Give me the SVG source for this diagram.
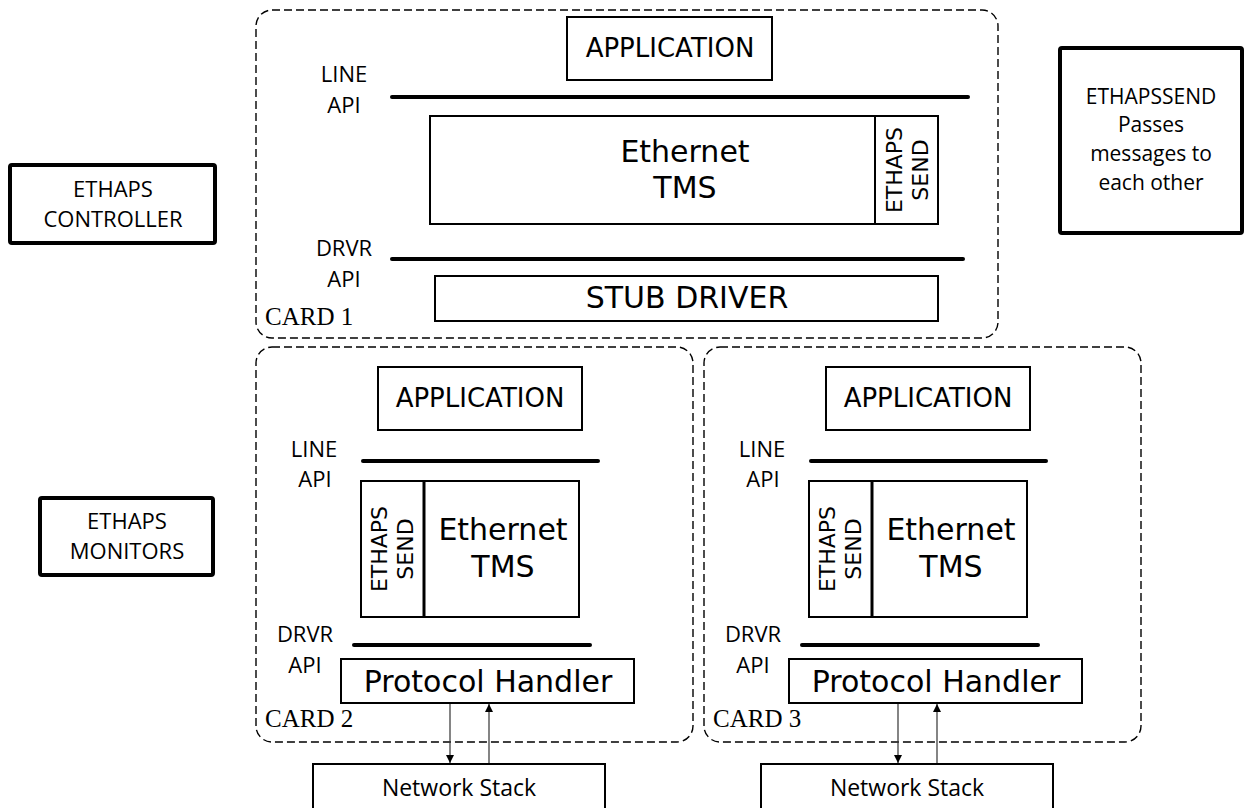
<svg xmlns="http://www.w3.org/2000/svg" width="1246" height="808" viewBox="0 0 1246 808">
<style>
.card{fill:none;stroke:#000;stroke-width:1.4;stroke-dasharray:8 4}
.box{fill:#fff;stroke:#000;stroke-width:2}
.tbox{fill:#fff;stroke:#000;stroke-width:4}
.api{stroke:#000;stroke-width:4;stroke-linecap:round}
.v{font-family:"DejaVu Sans",Verdana,sans-serif;fill:#000;text-anchor:middle}
.c{font-family:"Open Sans","Noto Sans",sans-serif;fill:#000;text-anchor:middle}
.t{font-family:"Liberation Serif","Times New Roman",serif;fill:#000;font-size:25px}
.conn{stroke:#333;stroke-width:1.2;fill:none}
</style>
<defs>
<marker id="ah" viewBox="0 0 10 10" markerWidth="10" markerHeight="8" refX="10" refY="5" orient="auto" markerUnits="userSpaceOnUse">
<path d="M0,0 L10,5 L0,10 z" fill="#000"/>
</marker>
</defs>

<g id="card1">
<rect class="card" x="256" y="10" width="742" height="328" rx="16"/>
<text class="t" x="265" y="325">CARD 1</text>
<text class="c" x="344" y="82" font-size="22">LINE</text>
<text class="c" x="344" y="113" font-size="22">API</text>
<line class="api" x1="392" y1="97" x2="968" y2="97"/>
<text class="c" x="344" y="256" font-size="22">DRVR</text>
<text class="c" x="344" y="287" font-size="22">API</text>
<line class="api" x1="392" y1="259" x2="963" y2="259"/>
</g>
<g id="app1">
<rect class="box" x="567" y="17" width="205" height="63"/>
<text class="v" x="670" y="57" font-size="26">APPLICATION</text>
</g>
<g id="tms1">
<rect class="box" x="430" y="116" width="445" height="108"/>
<text class="v" x="685" y="162" font-size="30">Ethernet</text>
<text class="v" x="685" y="198" font-size="30">TMS</text>
</g>
<g id="send1">
<rect class="box" x="875" y="116" width="63" height="108"/>
<text class="v" font-size="22" transform="translate(902,170) rotate(-90)" x="0" y="0">ETHAPS</text>
<text class="v" font-size="22" transform="translate(928,170) rotate(-90)" x="0" y="0">SEND</text>
</g>
<g id="stub1">
<rect class="box" x="435" y="276" width="503" height="45"/>
<text class="v" x="687" y="308" font-size="30">STUB DRIVER</text>
</g>

<g id="controller">
<rect class="tbox" x="10" y="165" width="205" height="78" rx="2"/>
<text class="c" x="113" y="197" font-size="22">ETHAPS</text>
<text class="c" x="113" y="227" font-size="22">CONTROLLER</text>
</g>
<g id="monitors">
<rect class="tbox" x="40" y="498" width="173" height="77" rx="2"/>
<text class="c" x="127" y="529" font-size="22">ETHAPS</text>
<text class="c" x="127" y="559" font-size="22">MONITORS</text>
</g>
<g id="ethapssend-note">
<rect class="tbox" x="1060" y="48" width="182" height="185" rx="2"/>
<text class="c" x="1151" y="104" font-size="21">ETHAPSSEND</text>
<text class="c" x="1151" y="132" font-size="21">Passes</text>
<text class="c" x="1151" y="161" font-size="21">messages to</text>
<text class="c" x="1151" y="190" font-size="21">each other</text>
</g>

<g id="card2">
<rect class="card" x="256" y="347" width="437" height="395" rx="16"/>
<text class="t" x="265" y="727">CARD 2</text>
<text class="c" x="314" y="457" font-size="22">LINE</text>
<text class="c" x="315" y="487" font-size="22">API</text>
<line class="api" x1="363" y1="461" x2="598" y2="461"/>
<text class="c" x="305" y="642" font-size="22">DRVR</text>
<text class="c" x="305" y="673" font-size="22">API</text>
<line class="api" x1="354" y1="645" x2="590" y2="645"/>
</g>
<g id="app2">
<rect class="box" x="378" y="367" width="204" height="63"/>
<text class="v" x="480" y="407" font-size="26">APPLICATION</text>
</g>
<g id="send2">
<rect class="box" x="361" y="481" width="63" height="136"/>
<text class="v" font-size="22" transform="translate(387,549) rotate(-90)" x="0" y="0">ETHAPS</text>
<text class="v" font-size="22" transform="translate(413,549) rotate(-90)" x="0" y="0">SEND</text>
</g>
<g id="tms2">
<rect class="box" x="424" y="481" width="155" height="136"/>
<line x1="424" y1="481" x2="424" y2="617" stroke="#000" stroke-width="3"/>
<text class="v" x="503" y="540" font-size="30">Ethernet</text>
<text class="v" x="503" y="577" font-size="30">TMS</text>
</g>
<g id="ph2">
<rect class="box" x="341" y="659" width="293" height="44"/>
<text class="v" x="488" y="692" font-size="30">Protocol Handler</text>
</g>
<g id="ns2">
<rect class="box" x="313" y="764" width="292" height="60"/>
<text class="c" x="459" y="796" font-size="23">Network Stack</text>
</g>

<g id="card3">
<rect class="card" x="704" y="347" width="437" height="395" rx="16"/>
<text class="t" x="713" y="727">CARD 3</text>
<text class="c" x="762" y="457" font-size="22">LINE</text>
<text class="c" x="763" y="487" font-size="22">API</text>
<line class="api" x1="811" y1="461" x2="1046" y2="461"/>
<text class="c" x="753" y="642" font-size="22">DRVR</text>
<text class="c" x="753" y="673" font-size="22">API</text>
<line class="api" x1="802" y1="645" x2="1038" y2="645"/>
</g>
<g id="app3">
<rect class="box" x="826" y="367" width="204" height="63"/>
<text class="v" x="928" y="407" font-size="26">APPLICATION</text>
</g>
<g id="send3">
<rect class="box" x="809" y="481" width="63" height="136"/>
<text class="v" font-size="22" transform="translate(835,549) rotate(-90)" x="0" y="0">ETHAPS</text>
<text class="v" font-size="22" transform="translate(861,549) rotate(-90)" x="0" y="0">SEND</text>
</g>
<g id="tms3">
<rect class="box" x="872" y="481" width="155" height="136"/>
<line x1="872" y1="481" x2="872" y2="617" stroke="#000" stroke-width="3"/>
<text class="v" x="951" y="540" font-size="30">Ethernet</text>
<text class="v" x="951" y="577" font-size="30">TMS</text>
</g>
<g id="ph3">
<rect class="box" x="789" y="659" width="293" height="44"/>
<text class="v" x="936" y="692" font-size="30">Protocol Handler</text>
</g>
<g id="ns3">
<rect class="box" x="761" y="764" width="292" height="60"/>
<text class="c" x="907" y="796" font-size="23">Network Stack</text>
</g>

<g id="connectors">
<line class="conn" x1="450" y1="704" x2="450" y2="763" marker-end="url(#ah)"/>
<line class="conn" x1="489" y1="763" x2="489" y2="704" marker-end="url(#ah)"/>
<line class="conn" x1="898" y1="704" x2="898" y2="763" marker-end="url(#ah)"/>
<line class="conn" x1="937" y1="763" x2="937" y2="704" marker-end="url(#ah)"/>
</g>
</svg>
